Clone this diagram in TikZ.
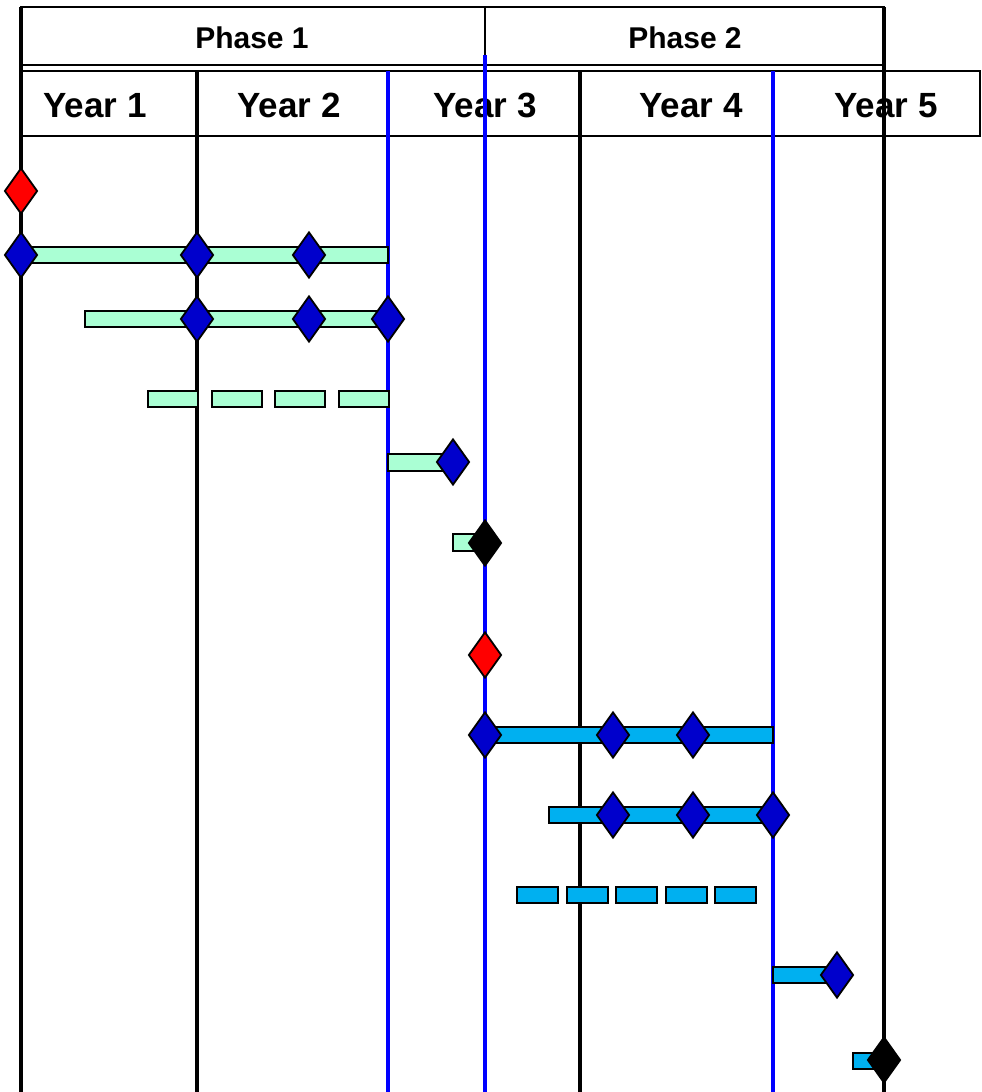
\documentclass[tikz,border=0pt]{standalone}
\usepackage{fontspec}
\setmainfont{Liberation Sans}
\usetikzlibrary{shapes.geometric}

\definecolor{mint}{RGB}{170,255,212}
\definecolor{sky}{RGB}{0,176,240}
\definecolor{msblue}{RGB}{0,0,204}
\definecolor{gridblue}{RGB}{0,0,255}

\begin{document}
\begin{tikzpicture}[x=1pt, y=-1pt,
  frame/.style={draw=black, line width=2pt},
  grid/.style={line width=3.8pt},
  bar/.style={draw=black, line width=2pt},
  ms/.style={diamond, draw=black, line width=1.8pt, inner sep=0pt,
    minimum width=33pt, minimum height=46pt},
  bluems/.style={ms, fill=msblue},
  redms/.style={ms, fill=red},
  blackms/.style={ms, fill=black},
  phase/.style={anchor=base, font=\bfseries\fontsize{30}{30}\selectfont},
  year/.style={anchor=base, font=\bfseries\fontsize{35}{35}\selectfont}]

  \useasboundingbox (0,0) rectangle (982,1092);

  % Header rows
  \draw[frame] (21,7) rectangle (485,65);
  \draw[frame] (485,7) rectangle (884,65);
  \draw[frame] (21,71) rectangle (980,136);

  \node[phase] (ph1) at (252,48) {Phase 1};
  \node[phase] (ph2) at (685,48) {Phase 2};
  \foreach \x/\lbl [count=\i] in {95/1,289/2,485/3,691/4,886/5}
    \node[year] (yr\i) at (\x,117) {Year \lbl};

  % Year lines
  \draw[grid] (21,7) -- (21,1092);
  \draw[grid] (884,7) -- (884,1092);
  \foreach \x in {197,580}
    \draw[grid] (\x,71) -- (\x,1092);
  \foreach \x in {388,773}
    \draw[grid, gridblue] (\x,71) -- (\x,1092);
  \draw[grid, gridblue] (485,55) -- (485,1092);

  % Phase 1 bars
  \draw[bar, fill=mint] (21,247) rectangle (388,263);
  \draw[bar, fill=mint] (85,311) rectangle (388,327);
  \foreach \x in {148,211.5,275,338.5}
    \draw[bar, fill=mint] (\x,391) rectangle (\x+50,407);
  \draw[bar, fill=mint] (388,454) rectangle (445,471);
  \draw[bar, fill=mint] (453,534) rectangle (478,551);

  % Phase 2 bars
  \draw[bar, fill=sky] (485,727) rectangle (773,743);
  \draw[bar, fill=sky] (549,807) rectangle (773,823);
  \foreach \x in {517,566.5,616,665.5,715}
    \draw[bar, fill=sky] (\x,887) rectangle (\x+41,903);
  \draw[bar, fill=sky] (773,967) rectangle (830,983);
  \draw[bar, fill=sky] (853,1053) rectangle (878,1069);

  % Milestones, phase 1
  \node[redms] (start1) at (21,191) {};
  \node[bluems] (a1) at (21,255) {};
  \node[bluems] (a2) at (197,255) {};
  \node[bluems] (a3) at (309,255) {};
  \node[bluems] (b1) at (197,319) {};
  \node[bluems] (b2) at (309,319) {};
  \node[bluems] (b3) at (388,319) {};
  \node[bluems] (c1) at (453,462) {};
  \node[blackms] (end1) at (485,543) {};

  % Milestones, phase 2
  \node[redms] (start2) at (485,655) {};
  \node[bluems] (d1) at (485,735) {};
  \node[bluems] (d2) at (613,735) {};
  \node[bluems] (d3) at (693,735) {};
  \node[bluems] (e1) at (613,815) {};
  \node[bluems] (e2) at (693,815) {};
  \node[bluems] (e3) at (773,815) {};
  \node[bluems] (f1) at (837,975) {};
  \node[blackms] (end2) at (884,1060) {};

\end{tikzpicture}
\end{document}
